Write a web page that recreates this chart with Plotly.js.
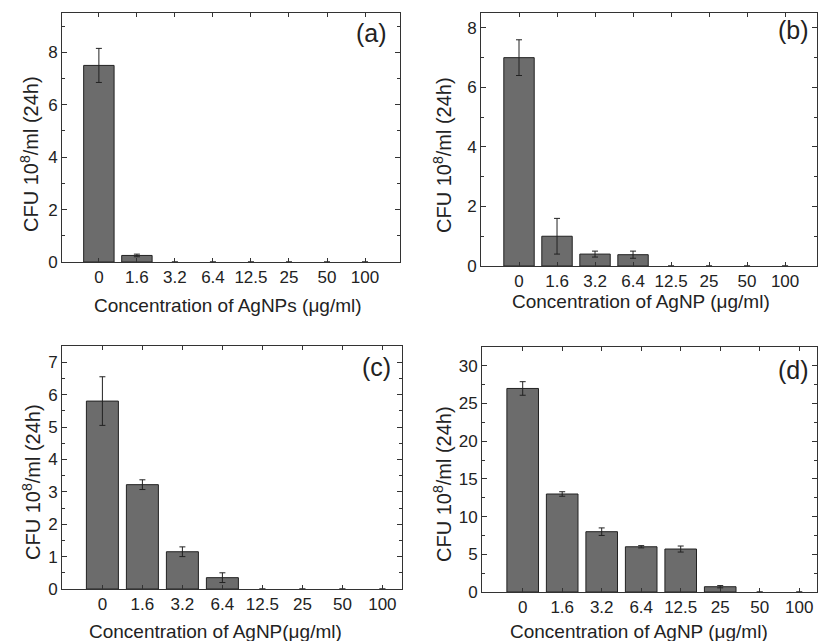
<!DOCTYPE html>
<html>
<head>
<meta charset="utf-8">
<script src="https://cdn.plot.ly/plotly-3.0.1.min.js"></script>
<style>html,body{margin:0;padding:0;background:#fff;}#chart{width:818px;height:641px;}</style>
</head>
<body>
<div id="chart"></div>
<script>
const categories = ["0", "1.6", "3.2", "6.4", "12.5", "25", "50", "100"];

const valuesA = [7.5, 0.25, 0, 0, 0, 0, 0, 0];
const errorsA = [0.65, 0.05, 0, 0, 0, 0, 0, 0];

const valuesB = [7.0, 1.0, 0.4, 0.38, 0, 0, 0, 0];
const errorsB = [0.6, 0.6, 0.1, 0.12, 0, 0, 0, 0];

const valuesC = [5.8, 3.22, 1.15, 0.35, 0, 0, 0, 0];
const errorsC = [0.75, 0.15, 0.15, 0.15, 0, 0, 0, 0];

const valuesD = [27.0, 13.0, 8.0, 6.0, 5.7, 0.7, 0, 0];
const errorsD = [0.9, 0.3, 0.5, 0.15, 0.4, 0.15, 0, 0];

const panelLabels = ["(a)", "(b)", "(c)", "(d)"];
const xTitles = ["Concentration of AgNPs (\u03bcg/ml)", "Concentration of AgNP (\u03bcg/ml)",
                 "Concentration of AgNP(\u03bcg/ml)", "Concentration of AgNP (\u03bcg/ml)"];
const yTitle = "CFU 10<sup>8</sup>/ml (24h)";

const FONT = "Liberation Sans, Arial, sans-serif";
const barColor = "#6c6c6c";

function barTrace(vals, errs, xa, ya) {
  return {
    type: "bar", x: categories, y: vals, xaxis: xa, yaxis: ya,
    width: 0.8,
    marker: {color: barColor, line: {color: "#222", width: vals.map(v => v > 0 ? 1 : 0)}},
    error_y: {type: "data", array: errs.map((e, i) => vals[i] > 0 ? e : null),
              visible: true, color: "#222", thickness: 1, width: 3},
    hoverinfo: "skip", showlegend: false
  };
}

const data = [
  barTrace(valuesA, errorsA, "x", "y"),
  barTrace(valuesB, errorsB, "x2", "y2"),
  barTrace(valuesC, errorsC, "x3", "y3"),
  barTrace(valuesD, errorsD, "x4", "y4")
];

function xax(dom, range, anchor) {
  return {
    domain: dom, range: range, anchor: anchor, type: "category",
    showline: true, linecolor: "#333", linewidth: 1, mirror: "ticks",
    ticks: "inside", ticklen: 4, tickcolor: "#333",
    tickfont: {family: FONT, size: 17, color: "#222"},
    showgrid: false, zeroline: false, fixedrange: true
  };
}
function yax(dom, range, dtick, anchor) {
  return {
    domain: dom, range: range, anchor: anchor, dtick: dtick, tick0: 0,
    showline: true, linecolor: "#333", linewidth: 1, mirror: "ticks",
    ticks: "inside", ticklen: 5, tickcolor: "#333",
    minor: {dtick: dtick / 2, ticks: "inside", ticklen: 3, tickcolor: "#333"},
    tickfont: {family: FONT, size: 17, color: "#222"},
    showgrid: false, zeroline: false, fixedrange: true
  };
}

const W = 818, H = 641;
const px = (x) => x / W;
const py = (y) => 1 - y / H;

const layout = {
  width: W, height: H,
  margin: {l: 0, r: 0, t: 0, b: 0},
  paper_bgcolor: "#fff", plot_bgcolor: "#fff",
  font: {family: FONT, color: "#222"},
  xaxis:  xax([px(62), px(400)], [-0.97, 7.92], "y"),
  yaxis:  yax([py(262), py(13)], [0, 9.5], 2, "x"),
  xaxis2: xax([px(481), px(817)], [-1.0, 7.84], "y2"),
  yaxis2: yax([py(266), py(13)], [0, 8.5], 2, "x2"),
  xaxis3: xax([px(62), px(402)], [-1.01, 7.49], "y3"),
  yaxis3: yax([py(589), py(346)], [0, 7.5], 1, "x3"),
  xaxis4: xax([px(482), px(817)], [-1.03, 7.45], "y4"),
  yaxis4: yax([py(592), py(347)], [0, 32.5], 5, "x4"),
  annotations: []
};

const labelPos = [[371, 33], [793, 30], [376, 367], [793, 370]];
const xTitlePos = [[228, 305], [641, 301], [215, 631], [639, 631]];
const yTitlePos = [[29, 154], [443, 155], [31, 482], [442, 484]];

for (let i = 0; i < 4; i++) {
  layout.annotations.push({
    text: panelLabels[i], x: px(labelPos[i][0]), y: py(labelPos[i][1]),
    xref: "paper", yref: "paper", xanchor: "center", yanchor: "middle",
    showarrow: false, font: {family: FONT, size: 25, color: "#222"}
  });
  layout.annotations.push({
    text: xTitles[i], x: px(xTitlePos[i][0]), y: py(xTitlePos[i][1]),
    xref: "paper", yref: "paper", xanchor: "center", yanchor: "middle",
    showarrow: false, font: {family: FONT, size: 19, color: "#222"}
  });
  layout.annotations.push({
    text: yTitle, x: px(yTitlePos[i][0]), y: py(yTitlePos[i][1]),
    xref: "paper", yref: "paper", xanchor: "center", yanchor: "middle",
    textangle: -90,
    showarrow: false, font: {family: FONT, size: 20, color: "#222"}
  });
}

Plotly.newPlot("chart", data, layout, {displayModeBar: false, staticPlot: true});
</script>
</body>
</html>
